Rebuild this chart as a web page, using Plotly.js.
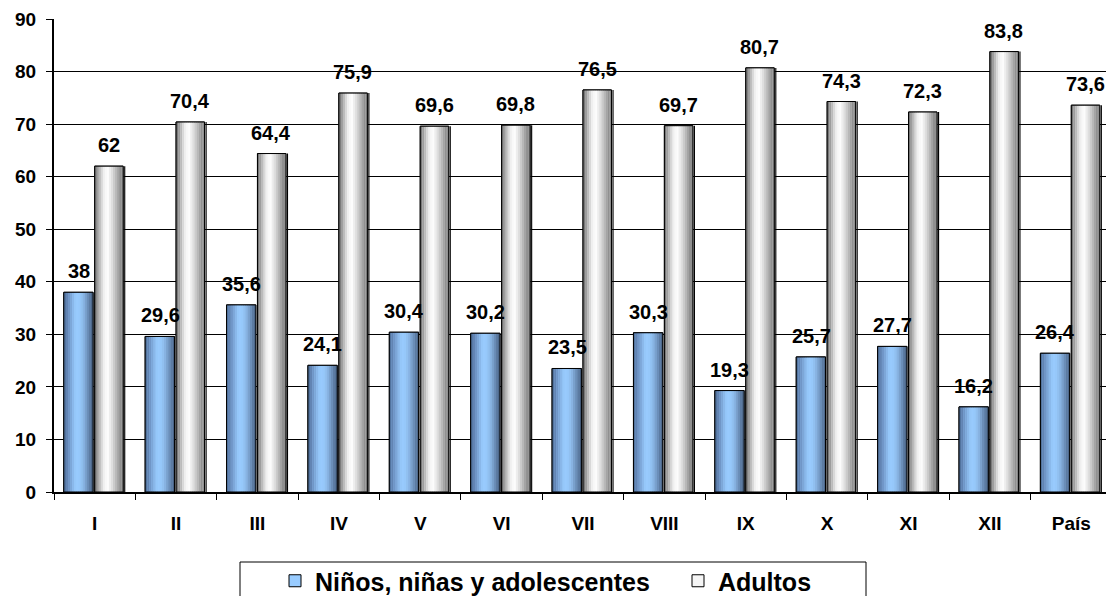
<!DOCTYPE html>
<html><head><meta charset="utf-8">
<script src="https://cdn.plot.ly/plotly-3.0.1.min.js"></script>
<style>html,body{margin:0;padding:0;overflow:hidden;background:#fff}</style>
</head><body><div id="chart"></div>
<script>
const categories = ['I','II','III','IV','V','VI','VII','VIII','IX','X','XI','XII','País'];
const ninos = [38, 29.6, 35.6, 24.1, 30.4, 30.2, 23.5, 30.3, 19.3, 25.7, 27.7, 16.2, 26.4];
const adultos = [62, 70.4, 64.4, 75.9, 69.6, 69.8, 76.5, 69.7, 80.7, 74.3, 72.3, 83.8, 73.6];
const seriesNames = ['Niños, niñas y adolescentes', 'Adultos'];
const yTicks = [0,10,20,30,40,50,60,70,80,90];

const FONT = 'Liberation Sans, Arial, sans-serif';
const fmt = v => String(v).replace('.', ',');

function hex2rgb(h){h=h.replace('#','');return [0,2,4].map(i=>parseInt(h.substr(i,2),16));}
function grad(stops, t){
  for(let i=0;i<stops.length-1;i++){
    const [p0,c0]=stops[i],[p1,c1]=stops[i+1];
    if(t>=p0&&t<=p1){
      const f=(t-p0)/(p1-p0),a=hex2rgb(c0),b=hex2rgb(c1);
      return 'rgb('+a.map((v,j)=>Math.round(v+(b[j]-v)*f)).join(',')+')';
    }
  }
  return stops[stops.length-1][1];
}
const blueStops = [[0,'#4a6a94'],[0.15,'#6b8fc0'],[0.38,'#95c6f8'],[0.5,'#99ccff'],[0.65,'#8ebbea'],[0.85,'#6586b0'],[1,'#465f80']];
const grayStops = [[0,'#666666'],[0.12,'#a4a4a4'],[0.3,'#ececec'],[0.45,'#ffffff'],[0.6,'#e0e0e0'],[0.8,'#aaaaaa'],[0.93,'#858585'],[1,'#9c9c9c']];

const N = 14;
const traces = [];
function addSeries(name, yvals, stops, off, w, lw){
  const base = {type:'bar', x:categories, y:yvals, name:name, offset:off, width:w,
    marker:{color:grad(stops,0.5), line:{color:'#000', width:1}}, legendgroup:name, hoverinfo:'skip'};
  if (lw) base.legendwidth = lw;
  traces.push(base);
  for(let k=0;k<N;k++){
    traces.push({type:'bar', x:categories, y:yvals, offset:off + k*w/N, width:w/N + 0.002,
      marker:{color:grad(stops,(k+0.5)/N), line:{width:0}}, showlegend:false, legendgroup:name, hoverinfo:'skip'});
  }
  traces.push({type:'bar', x:categories, y:yvals, offset:off, width:w,
    marker:{color:'rgba(0,0,0,0)', line:{color:'#000', width:1}}, showlegend:false, legendgroup:name, hoverinfo:'skip'});
}
addSeries(seriesNames[0], ninos, blueStops, -0.38, 0.36, 358);
addSeries(seriesNames[1], adultos, grayStops, 0.0, 0.35, null);
traces.push({type:'bar', x:categories, y:adultos, offset:0.362, width:0.014,
  marker:{color:'#000', line:{width:0}}, showlegend:false, hoverinfo:'skip'});

const annotations = [];
categories.forEach((c,i)=>{
  annotations.push({x:c, y:ninos[i], xref:'x', yref:'y', text:fmt(ninos[i]), showarrow:false,
    xshift:-16, yshift:8, yanchor:'bottom', font:{family:FONT, size:20, color:'#000', weight:'bold'}});
  annotations.push({x:c, y:adultos[i], xref:'x', yref:'y', text:fmt(adultos[i]), showarrow:false,
    xshift:14, yshift:8, yanchor:'bottom', font:{family:FONT, size:20, color:'#000', weight:'bold'}});
});

// legend frame (pixel -> paper conversion for a 1058x473 plot area at left 54, bottom 492)
const px = p => (p-54)/1058, py = p => (492-p)/473;

const layout = {
  width:1112, height:596,
  margin:{l:54, r:0, t:19, b:104, autoexpand:false},
  paper_bgcolor:'#fff', plot_bgcolor:'#fff',
  barmode:'overlay',
  showlegend:true,
  font:{family:FONT, color:'#000'},
  xaxis:{type:'category', range:[-0.5,12.5], tickson:'boundaries', ticks:'outside', ticklen:6, tickwidth:1, tickcolor:'#000',
    showline:true, linecolor:'#000', linewidth:2, showgrid:false, zeroline:false,
    tickfont:{family:FONT, size:19, color:'#000', weight:'bold'}, ticklabelstandoff:13},
  yaxis:{range:[0,90], tickvals:yTicks, ticktext:yTicks.map(String), ticks:'outside', ticklen:6, tickcolor:'#000',
    showline:true, linecolor:'#000', linewidth:2, showgrid:true, gridcolor:'#000', gridwidth:1, zeroline:false,
    tickfont:{family:FONT, size:19, color:'#000', weight:'bold'}, ticklabelstandoff:6},
  legend:{orientation:'h', xref:'container', yref:'container', x:275/1112, y:(596-558)/596, xanchor:'left', yanchor:'top',
    bgcolor:'rgba(0,0,0,0)', borderwidth:0,
    font:{family:FONT, size:25, color:'#000', weight:'bold'}, traceorder:'normal'},
  shapes:[{type:'rect', xref:'paper', yref:'paper', x0:px(240), x1:px(866), y0:py(562), y1:py(630),
    line:{color:'#000', width:1}, fillcolor:'rgba(0,0,0,0)', layer:'above'}],
  annotations:annotations
};
Plotly.newPlot('chart', traces, layout, {displayModeBar:false, staticPlot:true});
</script>
</body></html>
